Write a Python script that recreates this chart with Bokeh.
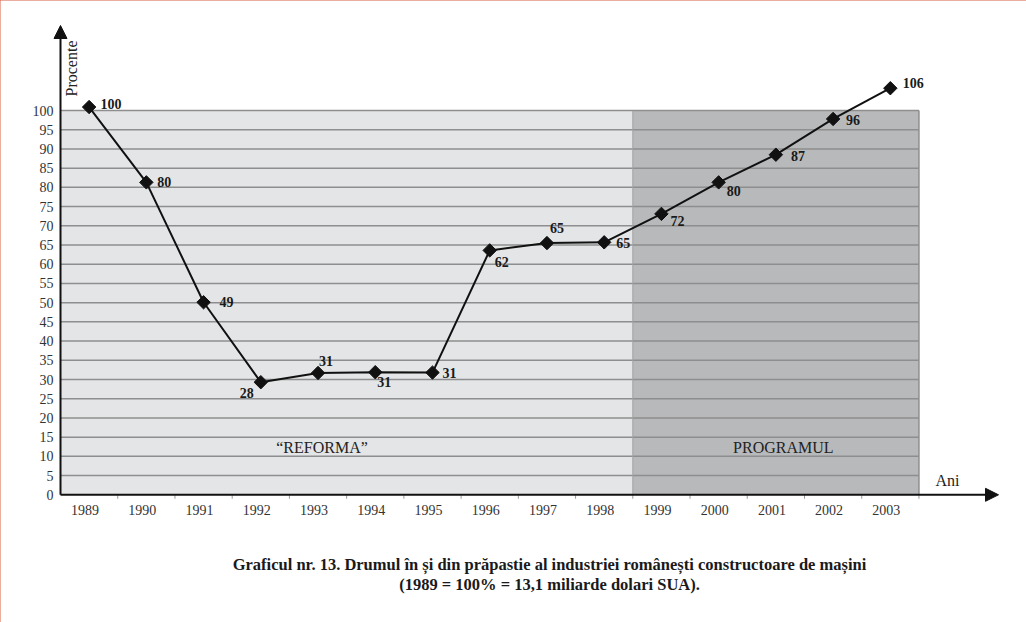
import numpy as np
from bokeh.plotting import figure
from bokeh.models import ColumnDataSource, Label, Arrow, NormalHead
from bokeh.core.properties import value
from bokeh.embed import file_html
from bokeh.resources import INLINE

# data
years = [1989, 1990, 1991, 1992, 1993, 1994, 1995, 1996, 1997, 1998,
         1999, 2000, 2001, 2002, 2003]
# where the points sit on the drawing
values = [100.9, 81.3, 50.1, 29.3, 31.7, 31.9, 31.8, 63.6, 65.5, 65.7,
          73.1, 81.3, 88.5, 97.8, 105.8]
# numbers printed next to the points
labels = ["100", "80", "49", "28", "31", "31", "31", "62", "65", "65",
          "72", "80", "87", "96", "106"]

periods = ["\u201cREFORMA\u201d", "PROGRAMUL"]
period_start = [1988.5, 1998.5]
period_end = [1998.5, 2003.5]
period_colors = ["#e3e5e7", "#b7b9bb"]

grid_levels = list(range(5, 105, 5))
y_ticks = list(range(0, 105, 5))

title1 = "Graficul nr. 13. Drumul \u00een \u0219i din pr\u0103pastie al industriei rom\u00e2ne\u0219ti constructoare de ma\u0219ini"
title2 = "(1989 = 100% = 13,1 miliarde dolari SUA)."

# layout (pixels)
label_dx = [22, 18, 23, -14, 8, 9, 17, 12, 10, 19, 16, 15, 22, 20, 23]
label_dy = [-3, 0, 0, 11, -12, 10, 0, 12, -15, 1, 7, 9, 1, 1, -5]
W, H = 1026, 622
PX_YEAR = 57.23           # pixels per year
PX_UNIT = 3.843           # pixels per percent
AX_X, AX_Y = 60, 494.3    # pixel position of the axes corner
x0 = 1988.5


def xd(px):
    return x0 + (px - AX_X) / PX_YEAR


def yd(py):
    return (AX_Y - py) / PX_UNIT


SERIF = "Liberation Serif"

p = figure(width=W, height=H, x_range=(xd(0), xd(W)), y_range=(yd(H), yd(0)),
           output_backend="svg", toolbar_location=None,
           x_axis_location=None, y_axis_location=None,
           min_border=0)
p.styles = {"outline": "2px solid #d65a3e", "outline-offset": "-2px"}
p.outline_line_color = None
p.xgrid.visible = False
p.ygrid.visible = False

# background panels
p.quad(left=period_start, right=period_end, bottom=0, top=100,
       fill_color=period_colors, line_color=None)
p.segment(x0=[x0] * len(grid_levels), x1=[period_end[-1]] * len(grid_levels),
          y0=grid_levels, y1=grid_levels, line_color="#8e8e8e", line_width=1.5)
p.segment(x0=[period_start[1]], x1=[period_start[1]], y0=[0], y1=[100],
          line_color="#a0a2a4", line_width=1)
p.segment(x0=[period_end[1]], x1=[period_end[1]], y0=[0], y1=[100],
          line_color="#8e8e8e", line_width=1.5)

p.text(x=[1993.07, 2001.13], y=[12.3, 12.3], text=periods,
       text_font=value(SERIF), text_font_size="16px", text_color="#222222",
       text_align="center", text_baseline="middle")

# axes: ticks and tick labels
bounds = [y + 0.5 for y in years]
p.segment(x0=bounds, x1=bounds, y0=[0] * len(bounds), y1=[yd(AX_Y + 4)] * len(bounds),
          line_color="#9a9a9a", line_width=1)
p.text(x=years, y=[yd(509.5)] * len(years), text=[str(y) for y in years],
       x_offset=-4, text_font=value(SERIF), text_font_size="14px",
       text_color="#333333", text_align="center", text_baseline="middle")
p.text(x=[x0] * len(y_ticks), y=y_ticks, text=[str(t) for t in y_ticks],
       x_offset=-7, text_font=value(SERIF), text_font_size="14px",
       text_color="#333333", text_align="right", text_baseline="middle")

head = dict(fill_color="#111111", line_color="#111111", size=13)
p.add_layout(Arrow(end=NormalHead(**head), x_start=x0, y_start=0,
                   x_end=xd(998), y_end=0, line_width=2, line_color="#111111"))
p.add_layout(Arrow(end=NormalHead(**head), x_start=x0, y_start=0,
                   x_end=x0, y_end=yd(25), line_width=2, line_color="#111111"))

# series
src = ColumnDataSource(dict(x=years, y=values, t=labels, dx=label_dx, dy=label_dy))
p.line("x", "y", source=src, line_color="#111111", line_width=2)
p.scatter("x", "y", source=src, marker="square", angle=np.pi / 4, size=9.5,
          fill_color="#111111", line_color="#111111")
p.text("x", "y", text="t", source=src, x_offset="dx", y_offset="dy",
       text_font=value(SERIF), text_font_size="14px", text_font_style="bold",
       text_color="#1a1a1a", text_align="center", text_baseline="middle")

p.add_layout(Label(x=xd(71), y=yd(68), text="Procente", angle=np.pi / 2,
                   text_font=SERIF, text_font_size="16px", text_color="#222222",
                   text_align="center", text_baseline="middle"))
p.add_layout(Label(x=xd(947), y=yd(480), text="Ani",
                   text_font=SERIF, text_font_size="16px", text_color="#222222",
                   text_align="center", text_baseline="middle"))

p.text(x=[xd(549), xd(549)], y=[yd(564), yd(584)], text=[title1, title2],
       text_font=value(SERIF), text_font_size="16.5px", text_font_style="bold",
       text_color="#1a1a1a", text_align="center", text_baseline="middle")

open("out.html", "w").write(file_html(p, INLINE))
